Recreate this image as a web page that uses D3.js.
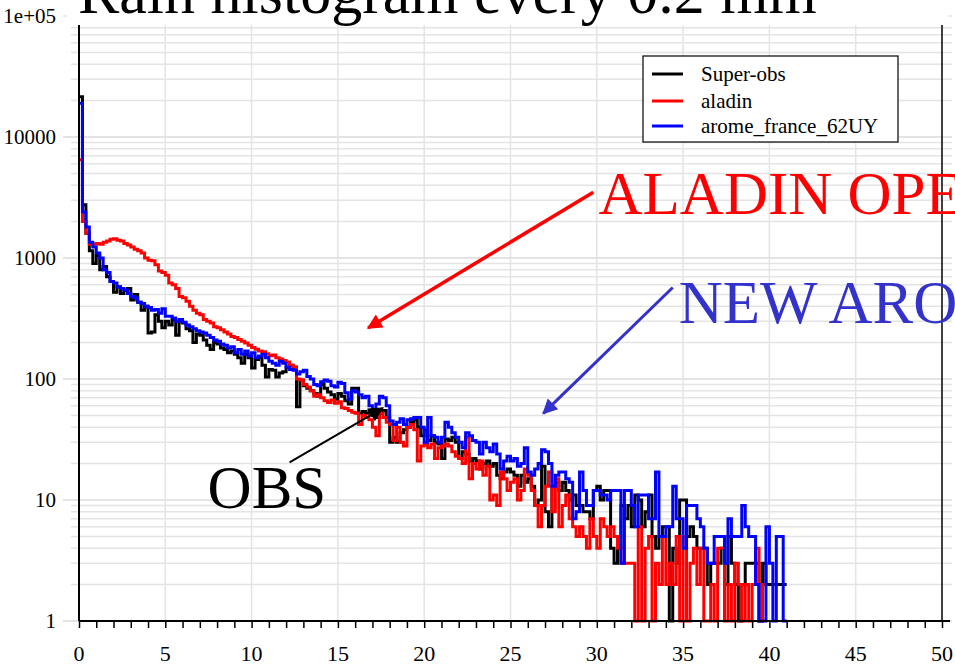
<!doctype html>
<html lang="en">
<head>
<meta charset="utf-8">
<title>Rain histogram every 0.2 mm</title>
<script src="https://d3js.org/d3.v7.min.js"></script>
<style>
  body { margin: 0; background: #fff; }
  svg { display: block; }
  svg text { font-family: "Liberation Serif", "DejaVu Serif", "Times New Roman", serif; }
  .grid line { stroke: #e4e4e4; stroke-width: 1.5; }
  .series { fill: none; stroke-width: 3; stroke-linejoin: miter; }
</style>
</head>
<body>
<div id="chart"></div>
<script>
// counts per 0.2 mm bin, first bin starts at 0 mm
const binSize = 0.2;

const superObs = [
  21500, 2750, 1600, 1150, 900,   1050, 800, 850, 700, 640,
  520, 580, 510, 540, 560,        450, 500, 430, 370, 400,
  240, 245, 340, 300, 265,        300, 280, 310, 230, 300,
  290, 260, 250, 200, 235,        230, 210, 190, 175, 200,
  195, 180, 175, 165, 170,        160, 150, 135, 160, 150,
  123, 145, 150, 130, 104,        120, 118, 104, 112, 115,
  125, 130, 120, 59, 98,          88, 84, 80, 76, 72,
  90, 84, 78, 74, 68,             76, 72, 66, 62, 84,
  84, 52, 54, 52, 55,             50, 48, 52, 55, 48,
  30, 33, 30, 36, 38,             40, 44, 46, 40, 34,
  38, 31, 34, 30, 29,             22, 32, 31, 33, 30,
  22, 25, 24, 21, 22,             21, 18, 20, 21, 19,
  20, 16, 15, 17, 18,             17, 16, 13, 16, 14,
  15, 13, 9, 10, 19,              8, 6, 13, 14, 12,
  14, 12, 10, 11, 9,              9, 8, 8, 7, 12,
  13, 10, 12, 12, 4,              3, 4, 9, 7, 9,
  6, 11, 10, 6, 8,                11, 5, 4, 5, 6,
  6, 0, 4, 3, 10,                 10, 5, 6, 5, 4,
  4, 4, 2, 3, 3,                  3, 4, 2, 5, 3,
  2, 0, 2, 3, 3,                  3, 3, 0, 3, 2,
  2, 2, 2, 2, 2
];

const aladin = [
  6500, 2000, 1600, 1300, 1300,   1320, 1300, 1350, 1380, 1430,
  1440, 1400, 1380, 1320, 1280,   1230, 1180, 1150, 1100, 1000,
  960, 950, 880, 780, 760,        720, 620, 600, 560, 480,
  470, 440, 400, 370, 350,        340, 310, 300, 290, 270,
  265, 255, 245, 235, 225,        220, 212, 205, 198, 190,
  182, 176, 170, 168, 162,        156, 158, 150, 146, 142,
  138, 130, 126, 100, 98,         90, 86, 80, 72, 74,
  70, 66, 64, 67, 63,             65, 58, 57, 55, 53,
  52, 42, 50, 48, 46,             40, 34, 52, 48, 44,
  42, 31, 40, 30, 28,             40, 42, 38, 21, 28,
  29, 27, 29, 22, 27,             28, 29, 28, 25, 23,
  22, 20, 33, 15, 20,             18, 21, 16, 19, 10,
  11, 9, 17, 15, 12,              14, 15, 10, 12, 18,
  16, 12, 9, 6, 9,                13, 17, 8, 15, 6,
  9, 11, 7, 6, 5,                 6, 5, 4, 7, 5,
  4, 7, 6, 5, 6,                  5, 4, 3, 3, 3,
  3, 0, 6, 0, 4,                  5, 0, 3, 2, 5,
  2, 3, 2, 5, 0,                  5, 0, 3, 4, 2,
  4, 0, 0, 2, 0,                  4, 4, 0, 2, 0,
  3, 2, 0, 2, 0,                  2, 4, 0, 2
];

const arome = [
  19000, 2400, 1800, 1350, 1230,  1100, 1000, 800, 760, 640,
  620, 575, 560, 545, 510,        480, 470, 430, 420, 400,
  390, 370, 375, 350, 380,        330, 330, 320, 300, 310,
  295, 280, 270, 260, 250,        245, 240, 230, 220, 210,
  205, 195, 190, 180, 185,        165, 175, 160, 170, 155,
  165, 150, 155, 160, 150,        140, 135, 130, 140, 135,
  125, 120, 118, 110, 115,        118, 105, 100, 90, 88,
  95, 98, 96, 88, 86,             94, 92, 77, 68, 80,
  78, 74, 70, 72, 60,             55, 62, 72, 70, 60,
  45, 42, 44, 47, 42,             46, 47, 48, 48, 40,
  30, 48, 34, 33, 30,             33, 44, 40, 36, 33,
  30, 27, 36, 34, 31,             30, 24, 30, 27, 25,
  29, 24, 18, 21, 23,             21, 22, 19, 20, 27,
  17, 16, 18, 20, 26,             25, 20, 13, 16, 17,
  17, 15, 14, 7, 8,               17, 12, 9, 9, 12,
  12, 11, 11, 10, 12,             12, 12, 3, 12, 12,
  9, 6, 11, 11, 11,               7, 7, 17, 5, 5,
  6, 6, 13, 7, 7,                 4, 9, 9, 9, 7,
  6, 4, 3, 3, 5,                  5, 5, 3, 7, 5,
  5, 5, 9, 6, 5,                  5, 2, 0, 0, 6,
  3, 0, 5, 5, 0
];

const seriesNames = ['Super-obs', 'aladin', 'arome_france_62UY'];
const seriesColors = ['#000000', '#ff0000', '#0000ff'];

const xTicks = [0, 5, 10, 15, 20, 25, 30, 35, 40, 45, 50];
const yTicks = [1, 10, 100, 1000, 10000, 100000];
const yTickLabels = ['1', '10', '100', '1000', '10000', '1e+05'];

// arrows placed in data coordinates [mm, count]
const notes = [
  { text: 'ALADIN OPER', color: '#ff0000', at: [30.1, 2300], from: [29.8, 3500], to: [16.75, 264], width: 3.5 },
  { text: 'NEW AROME', color: '#3333cc', at: [34.75, 290], from: [34.4, 570], to: [26.9, 52], width: 3 },
  { text: 'OBS', color: '#000000', at: [7.45, 8.6], from: [12.2, 20.5], to: [17.6, 57.5], width: 2 }
];

const width = 955;
const height = 665;
const plot = { left: 79, right: 942, top: 25, bottom: 621 };
const serif = '"Liberation Serif", "DejaVu Serif", "Times New Roman", serif';

const svg = d3.select('#chart')
  .append('svg')
  .attr('width', width)
  .attr('height', height)
  .attr('font-family', serif);

const x = d3.scaleLinear().domain([0, 50]).range([plot.left, plot.right]);
const y = d3.scaleLog().domain([1, 1e5]).range([plot.bottom, 16]);

svg.append('clipPath').attr('id', 'plot-clip')
  .append('rect')
  .attr('x', plot.left).attr('y', plot.top)
  .attr('width', plot.right - plot.left).attr('height', plot.bottom - plot.top + 2);

// grid
const grid = svg.append('g').attr('class', 'grid');

grid.selectAll('.vgrid')
  .data(xTicks.slice(1, -1))
  .join('line')
  .attr('x1', d => x(d)).attr('x2', d => x(d))
  .attr('y1', plot.top).attr('y2', plot.bottom);

const minor = y.ticks().filter(d => y(d) >= plot.top);
grid.selectAll('.hgrid')
  .data(minor)
  .join('line')
  .attr('x1', d => yTicks.includes(d) ? plot.left - 16 : plot.left - 8)
  .attr('x2', plot.right + 10)
  .attr('y1', d => y(d)).attr('y2', d => y(d))
  .style('stroke-width', d => yTicks.includes(d) ? 2 : 1.5);

// stubs for the top decade, which sits above the frame
grid.append('line')
  .attr('x1', plot.left - 16).attr('x2', plot.left - 12)
  .attr('y1', y(1e5)).attr('y2', y(1e5));
grid.append('line')
  .attr('x1', plot.right + 6).attr('x2', plot.right + 10)
  .attr('y1', y(1e5)).attr('y2', y(1e5));

// histograms
const stepLine = d3.line()
  .x(d => x(d[0]))
  .y(d => y(Math.max(d[1], 1)))
  .curve(d3.curveStepAfter);

function steps(values) {
  const pts = values.map((c, i) => [i * binSize, c]);
  pts.push([values.length * binSize, values[values.length - 1]]);
  return pts;
}

svg.append('g')
  .attr('clip-path', 'url(#plot-clip)')
  .selectAll('path')
  .data([superObs, aladin, arome])
  .join('path')
  .attr('class', 'series')
  .attr('d', d => stepLine(steps(d)))
  .attr('stroke', (d, i) => seriesColors[i]);

// frame
svg.append('line')
  .attr('x1', plot.left).attr('x2', plot.left)
  .attr('y1', plot.top).attr('y2', plot.bottom)
  .attr('stroke', '#000').attr('stroke-width', 2);
svg.append('line')
  .attr('x1', plot.right).attr('x2', plot.right)
  .attr('y1', plot.top).attr('y2', plot.bottom)
  .attr('stroke', '#000').attr('stroke-width', 1.5);

const xAxis = svg.append('g')
  .attr('transform', `translate(0,${plot.bottom})`)
  .call(d3.axisBottom(x).tickValues(d3.range(0, 51)).tickSize(7).tickFormat(''));
xAxis.select('.domain').attr('stroke-width', 2.2).attr('d', `M${plot.left},0H${plot.right + 8}`);
xAxis.selectAll('.tick line').attr('stroke-width', 1.5);

svg.append('g')
  .selectAll('text')
  .data(xTicks)
  .join('text')
  .attr('x', d => x(d))
  .attr('y', 661)
  .attr('text-anchor', 'middle')
  .style('font-size', '22px')
  .text(d => d);

svg.append('g')
  .selectAll('text')
  .data(yTicks)
  .join('text')
  .attr('x', 56)
  .attr('y', d => y(d) + 7)
  .attr('text-anchor', 'end')
  .style('font-size', '21px')
  .text((d, i) => yTickLabels[i]);

// legend
const legend = svg.append('g');
legend.append('rect')
  .attr('x', 643).attr('y', 56)
  .attr('width', 255).attr('height', 86)
  .attr('fill', '#fff').attr('stroke', '#000').attr('stroke-width', 1.2);
const rows = legend.selectAll('.row')
  .data(seriesNames)
  .join('g')
  .attr('transform', (d, i) => `translate(652,${[74, 101, 126][i]})`);
rows.append('line')
  .attr('x1', 0).attr('x2', 31)
  .attr('stroke', (d, i) => seriesColors[i]).attr('stroke-width', 3);
rows.append('text')
  .attr('x', 49).attr('y', 6.5)
  .style('font-size', '21px')
  .text(d => d);

// annotations
const defs = svg.append('defs');
notes.forEach((n, i) => {
  defs.append('marker')
    .attr('id', 'head' + i)
    .attr('viewBox', '0 0 10 10')
    .attr('refX', 9).attr('refY', 5)
    .attr('markerUnits', 'userSpaceOnUse')
    .attr('markerWidth', 17).attr('markerHeight', 15)
    .attr('orient', 'auto')
    .append('path')
    .attr('d', 'M0,0L10,5L0,10Z')
    .attr('fill', n.color);
});

const ann = svg.append('g');
ann.selectAll('line')
  .data(notes)
  .join('line')
  .attr('x1', d => x(d.from[0])).attr('y1', d => y(d.from[1]))
  .attr('x2', d => x(d.to[0])).attr('y2', d => y(d.to[1]))
  .attr('stroke', d => d.color)
  .attr('stroke-width', d => d.width)
  .attr('marker-end', (d, i) => `url(#head${i})`);
ann.selectAll('text')
  .data(notes)
  .join('text')
  .attr('x', d => x(d.at[0])).attr('y', d => y(d.at[1]))
  .attr('fill', d => d.color)
  .style('font-size', '61px')
  .text(d => d.text);

// title, mostly cut off by the top edge
svg.append('text')
  .attr('x', 78).attr('y', 13)
  .style('font-size', '62px')
  .text('Rain histogram every 0.2 mm');
</script>
</body>
</html>
